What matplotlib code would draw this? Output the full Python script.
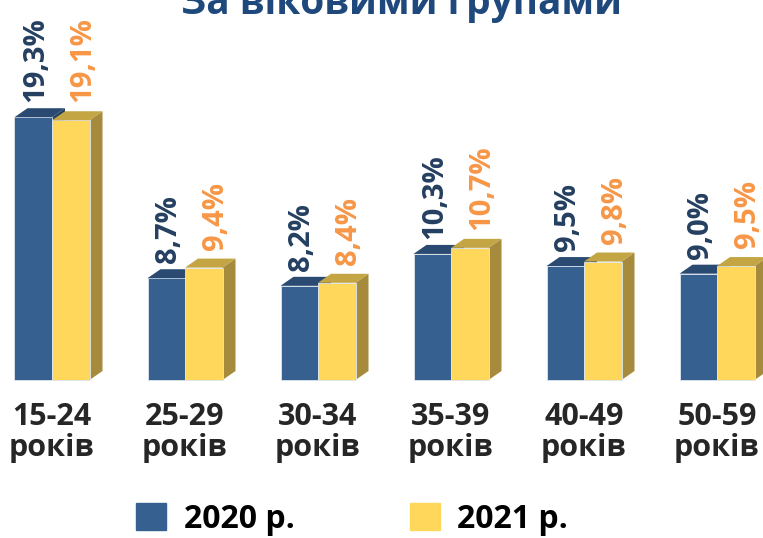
import numpy as np
import matplotlib.pyplot as plt
from matplotlib.patches import Polygon

plt.rcParams['font.family'] = ['Open Sans', 'DejaVu Sans']

categories = ['15-24', '25-29', '30-34', '35-39', '40-49', '50-59']
cat_suffix = 'років'
vals_2020 = [19.3, 8.7, 8.2, 10.3, 9.5, 9.0]
vals_2021 = [19.1, 9.4, 8.4, 10.7, 9.8, 9.5]
series_names = ['2020 р.', '2021 р.']
title = 'За віковими групами'

BLUE = '#36608f'
BLUE_TOP = '#2b4a72'
BLUE_SIDE = '#24405f'
YEL = '#ffd75a'
YEL_TOP = '#c4a544'
YEL_SIDE = '#a58b3b'
LBL_BLUE = '#243f60'
LBL_ORANGE = '#f79646'

fig = plt.figure(figsize=(7.63, 5.38), dpi=100)
ax = fig.add_axes([0, 0, 1, 1])
ax.axis('off')

# pixel-ish scale: 133 px per group, ~15.2 px per percent, floor at 2%
base = 2.0
ppx = 133.0
ppy = 15.19
ax.set_xlim(-52 / ppx, (763 - 52) / ppx)
ax.set_ylim(base - 158 / ppy, base + 380 / ppy)

x = np.arange(len(categories))
w = 37.5 / ppx
dx = 13 / ppx
dy = 9 / ppy


def bar3d(xl, v, front, top, side):
    ax.bar(xl, v - base, bottom=base, width=w, align='edge', color=front,
           edgecolor='#dfe6ef', linewidth=0.6, zorder=2)
    ax.add_patch(Polygon([(xl, v), (xl + w, v), (xl + w + dx, v + dy), (xl + dx, v + dy)],
                         closed=True, facecolor=top, edgecolor='none', zorder=2))
    ax.add_patch(Polygon([(xl + w, base), (xl + w + dx, base + dy), (xl + w + dx, v + dy), (xl + w, v)],
                         closed=True, facecolor=side, edgecolor='none', zorder=1.9))


for i in range(len(categories)):
    bar3d(x[i] - w, vals_2020[i], BLUE, BLUE_TOP, BLUE_SIDE)
    bar3d(x[i], vals_2021[i], YEL, YEL_TOP, YEL_SIDE)

    ax.text(x[i] - w / 2 + 2 / ppx, vals_2020[i] + dy + 6 / ppy,
            f'{vals_2020[i]:.1f}%'.replace('.', ','), rotation=90, ha='center', va='bottom',
            fontsize=21, fontweight='bold', color=LBL_BLUE)
    ax.text(x[i] + w / 2 + 12 / ppx, vals_2021[i] + dy + 9 / ppy,
            f'{vals_2021[i]:.1f}%'.replace('.', ','), rotation=90, ha='center', va='bottom',
            fontsize=21, fontweight='bold', color=LBL_ORANGE)

    ax.text(x[i], base - 22 / ppy, f'{categories[i]}\n{cat_suffix}', ha='center', va='top',
            fontsize=22, fontweight='bold', color='#262626', linespacing=1.05)

fig.text(0.526, 1 - 14 / 538, title, ha='center', va='baseline',
         fontsize=28, fontweight='bold', color='#1f497d')

h1 = plt.Rectangle((0, 0), 1, 1, color=BLUE)
h2 = plt.Rectangle((0, 0), 1, 1, color=YEL)
leg = fig.legend([h1, h2], series_names, loc='center', bbox_to_anchor=(352 / 763, 1 - 519 / 538),
                 ncol=2, frameon=False, handlelength=0.95, handleheight=0.95,
                 handletextpad=0.55, columnspacing=3.6,
                 prop={'size': 23, 'weight': 'bold'})
for t in leg.get_texts():
    t.set_color('black')

plt.savefig('out.png', dpi=100)
